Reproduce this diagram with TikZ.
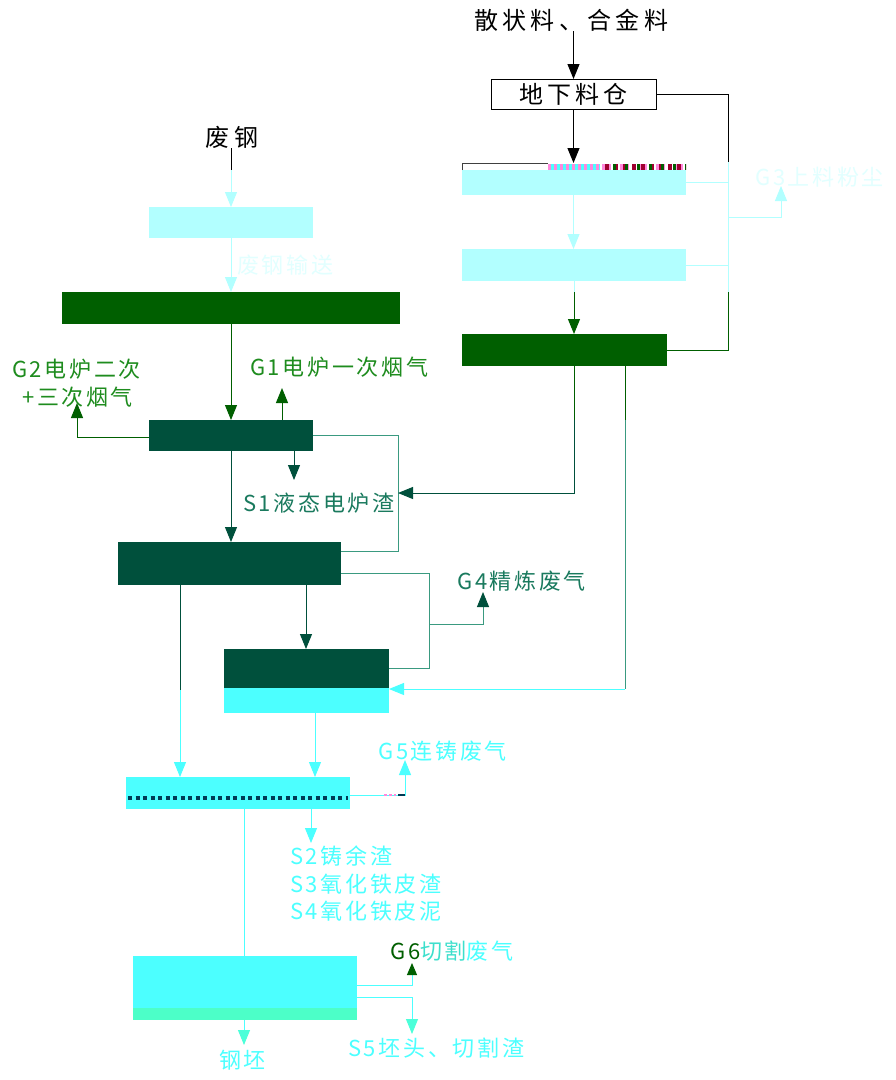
\documentclass[tikz,border=0pt]{standalone}
\usepackage{fontspec}
\newfontfamily\cjk[LetterSpace=12]{Noto Sans CJK SC}
\newfontfamily\cjkw[LetterSpace=18]{Noto Sans CJK SC}
\usetikzlibrary{arrows.meta,calc}
\definecolor{pcyan}{HTML}{B2FFFF}
\definecolor{dgreen}{HTML}{005F00}
\definecolor{dteal}{HTML}{00503C}
\definecolor{cyanb}{HTML}{4CFFFF}
\definecolor{mint}{HTML}{4CFFC8}
\definecolor{lgreen}{HTML}{1E8C1E}
\definecolor{tealtxt}{HTML}{1A7A5E}
\definecolor{tealline}{HTML}{3A9A80}
\definecolor{palewhite}{HTML}{E2FFFF}
\definecolor{navyd}{HTML}{003A55}
\definecolor{glpink}{HTML}{FF88DD}
\definecolor{glred}{HTML}{A00030}
\tikzset{
  box/.style={rectangle, inner sep=0pt, outer sep=0pt, draw=none},
  ln/.style={line width=1pt},
  arr/.style={line width=1pt, -{Triangle[length=15pt,width=12pt]}},
  lbl/.style={inner sep=0pt, anchor=west, font=\cjk\fontsize{22}{26}\selectfont},
  blbl/.style={inner sep=0pt, anchor=west, text=black, font=\cjkw\fontsize{24}{28}\selectfont},
}
\begin{document}
\begin{tikzpicture}[x=1pt,y=-1pt]
\useasboundingbox[fill=white] (0,0) rectangle (896,1080);

% ---------- boxes ----------
\node[box, draw=black, line width=1pt, fill=white, minimum width=165pt, minimum height=30pt,
      font=\cjkw\fontsize{24}{28}\selectfont] (cang) at (573.5,94) {地下料仓};
\node[box, fill=white, minimum width=224pt, minimum height=7pt] (b1s) at (574,166.5) {};
\node[box, fill=pcyan, minimum width=224pt, minimum height=25pt] (b1) at (574,182.5) {};
\node[box, fill=pcyan, minimum width=224pt, minimum height=32pt] (b2) at (574,265) {};
\node[box, fill=dgreen, minimum width=205pt, minimum height=32pt] (b3) at (564.5,350) {};

\node[box, fill=pcyan, minimum width=164pt, minimum height=31pt] (A) at (231,222.5) {};
\node[box, fill=dgreen, minimum width=338pt, minimum height=32pt] (B) at (231,308) {};
\node[box, fill=dteal, minimum width=164pt, minimum height=31pt] (C) at (231,435.5) {};
\node[box, fill=dteal, minimum width=223pt, minimum height=43pt] (D) at (229.5,563.5) {};
\node[box, fill=dteal, minimum width=165pt, minimum height=39pt] (Etop) at (306.5,668.5) {};
\node[box, fill=cyanb, minimum width=165pt, minimum height=25pt] (Ebot) at (306.5,700.5) {};
\node[box, fill=cyanb, minimum width=224pt, minimum height=32pt] (F) at (238,793) {};
\node[box, fill=cyanb, minimum width=224pt, minimum height=52pt] (Gtop) at (245,982) {};
\node[box, fill=mint, minimum width=224pt, minimum height=12pt] (Gbot) at (245,1014) {};

% glitch strip on top of first box
\draw[line width=6pt, dash pattern=on 3pt off 3pt, glpink] (548,166.5) -- (686,166.5);
\draw[line width=6pt, dash pattern=on 3pt off 3pt, dash phase=3pt, cyanb] (548,166.5) -- (600,166.5);
\draw[line width=6pt, dash pattern=on 4pt off 5pt, glred] (605,166.5) -- (686,166.5);
\draw[line width=6pt, dash pattern=on 3pt off 9pt, dash phase=4pt, dgreen] (605,166.5) -- (686,166.5);
\draw[line width=1pt, black!75] (462.5,170) |- (548,163.5);
% dotted line in casting box
\draw[line width=4pt, dash pattern=on 4pt off 3.5pt, navyd] (128,798) -- (348,798);

% ---------- labels ----------
\node[blbl] (mat) at (474,20) {散状料、合金料};
\node[blbl, anchor=center] (fg) at (232,137) {废钢};
\node[lbl, text=palewhite] (lss) at (237,265) {废钢输送};
\node[lbl, text=palewhite] (lg3) at (755,177) {G3上料粉尘};
\node[lbl, text=lgreen] (lg1) at (250,367) {G1电炉一次烟气};
\node[lbl, text=lgreen] (lg2a) at (12,369) {G2电炉二次};
\node[lbl, text=lgreen] (lg2b) at (22,397) {+三次烟气};
\node[lbl, text=tealtxt] (ls1) at (243,503) {S1液态电炉渣};
\node[lbl, text=tealtxt] (lg4) at (457,581) {G4精炼废气};
\node[lbl, text=cyanb] (lg5) at (378,751) {G5连铸废气};
\node[lbl, text=cyanb] (ls2) at (290,856) {S2铸余渣};
\node[lbl, text=cyanb] (ls3) at (290,884) {S3氧化铁皮渣};
\node[lbl, text=cyanb] (ls4) at (290,911) {S4氧化铁皮泥};
\node[lbl] (lg6) at (390,951) {\textcolor{dgreen}{G6}\textcolor{cyanb!80!dgreen}{切割}\textcolor{cyanb}{废气}};
\node[lbl, text=cyanb] (ls5) at (348,1048) {S5坯头、切割渣};
\node[lbl, text=cyanb] (lgp) at (219,1060) {钢坯};

% ---------- coordinates ----------
\coordinate (rx) at (728,0);
\coordinate (r1) at (728,162);
\coordinate (r2) at (728,292);
\coordinate (r3) at (728,217);
\coordinate (g3t) at (781,186);
\coordinate (k0) at (574,292);
\coordinate (fgk) at (231,170);
\coordinate (g1t) at (282,388);
\coordinate (g2t) at (77,403);
\coordinate (s1t) at (294,480);
\coordinate (k1) at (574,420);
\coordinate (m1) at (398,493);
\coordinate (g4a) at (429,624);
\coordinate (g4t) at (483,592);
\coordinate (x306) at (306,0);
\coordinate (k2) at (180,690);
\coordinate (k3) at (625,420);
\coordinate (k4) at (625,689);
\coordinate (x315) at (315,0);
\coordinate (g5t) at (405,760);
\coordinate (s2t) at (311,843);
\coordinate (x244) at (244,0);
\coordinate (g6t) at (412,963);
\coordinate (s5t) at (412,1034);
\coordinate (gpt) at (244,1045);

% ---------- right column ----------
\draw[arr, black] (mat.south -| cang.north) -- (cang.north);
\draw[arr, black] (cang.south) -- (cang.south |- b1s.north);
\draw[ln, black] (cang.east) -| (r1);
\draw[ln, pcyan] (r1) -- (r2);
\draw[ln, dgreen] (b3.east) -| (r2);
\draw[ln, pcyan] (b1.east) -- (b1.east -| rx);
\draw[ln, pcyan] (b2.east) -- (b2.east -| rx);
\draw[arr, pcyan] (r3) -| (g3t);
\draw[arr, pcyan] (b1.south -| cang.south) -- (b2.north -| cang.south);
\draw[ln, pcyan] (b2.south -| k0) -- (k0);
\draw[arr, dgreen] (k0) -- (b3.north -| k0);

% ---------- left column ----------
\draw[ln, black] (fg.south -| fgk) -- (fgk);
\draw[arr, pcyan] (fgk) -- (A.north);
\draw[arr, pcyan] (A.south) -- (B.north);
\draw[arr, dgreen] (B.south) -- (C.north);
\draw[arr, dgreen] (C.north -| g1t) -- (g1t);
\draw[arr, dgreen] ($(C.west)+(0,1.5)$) -| (g2t);
\draw[arr, dteal] (C.south -| s1t) -- (s1t);
\draw[ln, tealline] (C.east) -- ++(85,0) |- ($(D.north east)+(0,9)$);
\draw[ln, dgreen] (b3.south -| k1) -- (k1);
\draw[arr, dteal] (k1) |- (m1);
\draw[arr, dteal] (C.south) -- (C.south |- D.north);
\draw[ln, tealline] ($(D.north east)+(0,31)$) -- ++(88,0) |- (Etop.east);
\draw[arr, tealline, -{Triangle[length=15pt,width=12pt,color=dteal]}] (g4a) -| (g4t);
\draw[arr, dteal] (D.south -| x306) -- (Etop.north -| x306);
\draw[ln, dteal] (D.south -| k2) -- (k2);
\draw[arr, cyanb] (k2) -- (F.north -| k2);
\draw[ln, dgreen] (b3.south -| k3) -- (k3);
\draw[ln, tealline] (k3) -- (k4);
\draw[arr, cyanb] (k4) -- ($(Ebot.north east)+(0,1)$);
\draw[arr, cyanb] (Ebot.south -| x315) -- (F.north -| x315);
\draw[arr, cyanb] ($(F.east)+(0,2)$) -| (g5t);
\draw[line width=1.5pt, dash pattern=on 3pt off 2pt, glpink] (384,795) -- (396,795);
\draw[line width=1.5pt, navyd] (398,795) -- (405,795);
\draw[arr, cyanb] (F.south -| s2t) -- (s2t);
\draw[ln, cyanb] (F.south -| x244) -- (Gtop.north -| x244);
\draw[line width=1pt, cyanb, -{Triangle[length=12pt,width=10pt,color=dgreen]}] ($(Gtop.east)+(0,3)$) -| (g6t);
\draw[line width=1pt, cyanb, -{Triangle[length=15pt,width=12pt,color=mint!70!cyanb]}] ($(Gtop.east)+(0,15)$) -| (s5t);
\draw[line width=1pt, cyanb, -{Triangle[length=15pt,width=12pt,color=mint!70!cyanb]}] (Gbot.south -| gpt) -- (gpt);
\end{tikzpicture}
\end{document}
